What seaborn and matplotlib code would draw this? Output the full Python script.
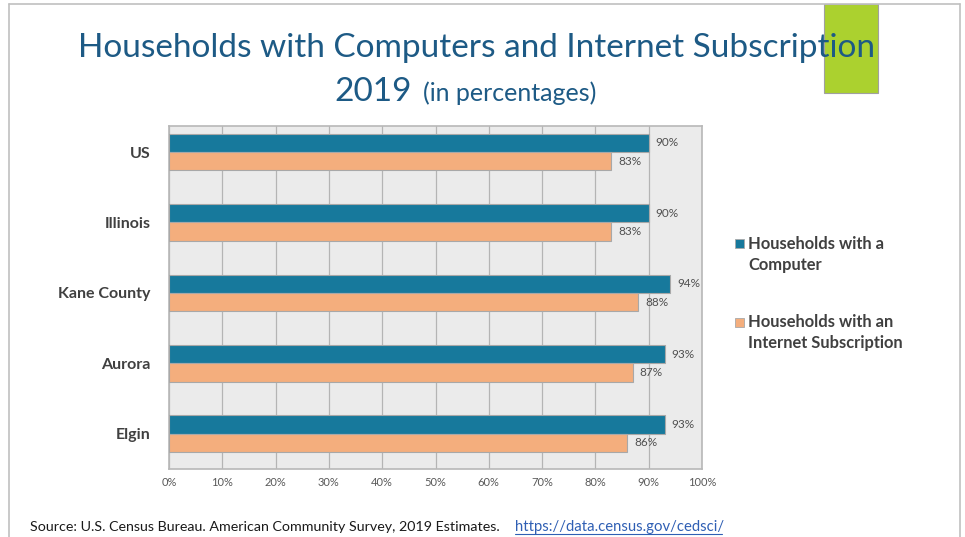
import matplotlib
matplotlib.use("Agg")
import matplotlib.pyplot as plt
from matplotlib.patches import Rectangle
from matplotlib.lines import Line2D
from matplotlib.ticker import PercentFormatter
import seaborn as sns
import pandas as pd

# Data (percent of households, ACS 2019)
places = ["US", "Illinois", "Kane County", "Aurora", "Elgin"]
computer = [90, 90, 94, 93, 93]
internet = [83, 83, 88, 87, 86]
series_names = ["Households with a\nComputer", "Households with an\nInternet Subscription"]
x_ticks = [0, 10, 20, 30, 40, 50, 60, 70, 80, 90, 100]

df = pd.DataFrame({
    "place": places * 2,
    "value": computer + internet,
    "series": [series_names[0]] * len(places) + [series_names[1]] * len(places),
})

TEAL = "#17799c"
PEACH = "#f4ae7d"
TEXT = "#404040"
TITLE = "#1d5a85"

sns.set_theme(style="white")
plt.rcParams["font.family"] = ["Lato", "DejaVu Sans"]

fig = plt.figure(figsize=(9.65, 5.37), dpi=100)
fig.patch.set_facecolor("white")
ax = fig.add_axes([169 / 965, 1 - 469 / 537, 533 / 965, 343 / 537])

sns.barplot(data=df, x="value", y="place", hue="series", order=places,
            hue_order=series_names, palette=[TEAL, PEACH], saturation=1,
            orient="h", width=0.52, edgecolor="#a8a8a8", linewidth=0.8,
            ax=ax, legend=False, zorder=3)

ax.set_facecolor("#ebebeb")
ax.set_xlim(0, 100)
ax.set_ylim(4.5, -0.37)
ax.set_xticks(x_ticks)
ax.xaxis.set_major_formatter(PercentFormatter(decimals=0))
ax.grid(axis="x", color="#b4b4b4", linewidth=0.9, zorder=0)
ax.set_axisbelow(True)
for s in ax.spines.values():
    s.set_color("#b8b8b8")
    s.set_linewidth(1.2)
ax.set_xlabel("")
ax.set_ylabel("")
ax.tick_params(axis="x", length=0, pad=6, labelsize=8, labelcolor="#595959")
ax.tick_params(axis="y", length=0, pad=13, labelsize=11.5, labelcolor=TEXT)
for lab in ax.get_yticklabels():
    lab.set_fontweight("bold")

for cont in ax.containers:
    ax.bar_label(cont, labels=[f"{v:.0f}%" for v in cont.datavalues],
                 padding=5, fontsize=8.5, color="#505050")

# Legend entries placed beside the plot
for i, (name, col) in enumerate(zip(series_names, [TEAL, PEACH])):
    y0 = 1 - (244 + i * 78) / 537
    fig.patches.append(Rectangle((735 / 965, y0 - 4.5 / 537), 9 / 965, 9 / 537,
                                 transform=fig.transFigure, facecolor=col,
                                 edgecolor="#a8a8a8", linewidth=0.6))
    fig.text(748 / 965, y0 + 8 / 537, name, ha="left", va="top", fontsize=11.9,
             fontweight="bold", color=TEXT, linespacing=1.4)

# Slide frame and accent block
for xs, ys in [((9, 9), (4, 537)), ((9, 960), (4, 4)), ((960, 960), (4, 537))]:
    fig.add_artist(Line2D([x / 965 for x in xs], [1 - y / 537 for y in ys],
                          transform=fig.transFigure, color="#c0c0c0", linewidth=1.2))
fig.patches.append(Rectangle((824 / 965, 1 - 93 / 537), 54 / 965, 89 / 537,
                             transform=fig.transFigure, facecolor="#abd12f",
                             edgecolor="#a0a0a0", linewidth=0.8, zorder=1))

# Titles
fig.text(476 / 965, 1 - 57 / 537, "Households with Computers and Internet Subscription",
         ha="center", va="baseline", fontsize=24, color=TITLE, zorder=5)
fig.text(412 / 965, 1 - 101 / 537, "2019", ha="right", va="baseline",
         fontsize=24, color=TITLE, zorder=5)
fig.text(423 / 965, 1 - 101 / 537, "(in percentages)", ha="left", va="baseline",
         fontsize=18, color=TITLE, zorder=5)

# Source line
fig.text(30 / 965, 1 - 531 / 537,
         "Source: U.S. Census Bureau. American Community Survey, 2019 Estimates.",
         ha="left", va="baseline", fontsize=10.3, color="#1a1a1a")
link = fig.text(515 / 965, 1 - 531 / 537, "https://data.census.gov/cedsci/",
                ha="left", va="baseline", fontsize=10.7, color="#2f5fb4")
fig.add_artist(Line2D([515 / 965, 722 / 965], [1 - 534 / 537, 1 - 534 / 537],
                      transform=fig.transFigure, color="#2f5fb4", linewidth=0.8))

fig.savefig("out.png", dpi=100, facecolor="white")
